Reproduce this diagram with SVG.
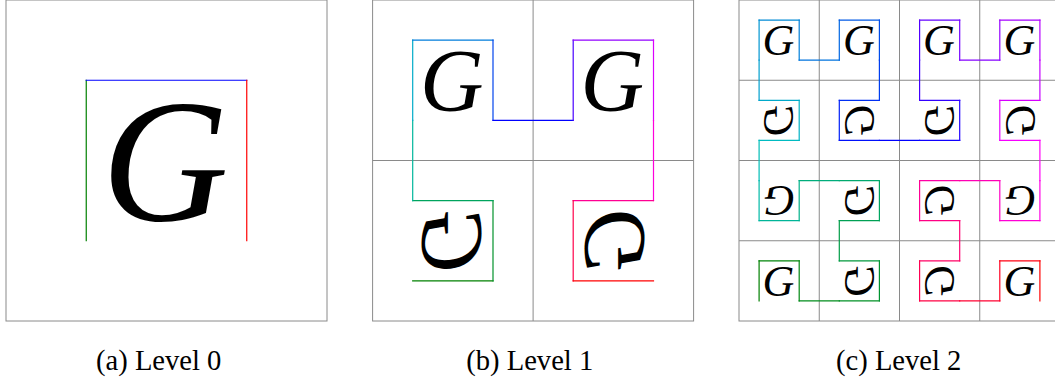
<svg xmlns="http://www.w3.org/2000/svg" width="1055" height="380" viewBox="0 0 1055 380">
<style>
.frame{fill:none;stroke:#8a8a8a;stroke-width:1}
.grid{fill:none;stroke:#8a8a8a;stroke-width:1}
.g{font-family:"Liberation Serif","Times New Roman",serif;font-style:italic;fill:#000;text-anchor:middle}
.g0{font-size:176px}
.g1{font-size:88px}
.g2{font-size:44px}
.cap{font-family:"Liberation Serif","Times New Roman",serif;font-size:28.6px;fill:#000}
.c path{fill:none;stroke-width:1.2;stroke-linecap:square}
</style>
<rect width="1055" height="380" fill="#fff"/>

<!-- Panel (a) -->
<g id="panel-a">
  <rect class="frame" x="6" y="0" width="321" height="321"/>
  <g id="a-cell"><text class="g g0" x="-1.5" y="59" transform="translate(166.5 160.5)">G</text></g>
  <g id="a-connectors" class="c">
    <path d="M86.25 240.75V80.25" stroke="#008000"/>
    <path d="M86.25 80.25H246.75" stroke="#0000ff"/>
    <path d="M246.75 80.25V240.75" stroke="#ff0000"/>
  </g>
  <text id="cap-a" class="cap" x="96" y="369.5">(a) Level 0</text>
</g>

<!-- Panel (b) -->
<g id="panel-b">
  <rect class="frame" x="372.6" y="0" width="321" height="321"/>
  <path class="grid" d="M533.1 0V321M372.6 160.5H693.6"/>
  <g id="b-tl"><text class="g g1" x="-1.2" y="29.5" transform="translate(452.85 80.25)">G</text></g>
  <g id="b-tr"><text class="g g1" x="-1.2" y="29.5" transform="translate(613.35 80.25)">G</text></g>
  <g id="b-bl"><text class="g g1" x="-1.2" y="29.5" transform="translate(452.85 240.75) matrix(0 -1 -1 0 0 0)">G</text></g>
  <g id="b-br"><text class="g g1" x="-1.2" y="29.5" transform="translate(613.35 240.75) matrix(0 1 1 0 0 0)">G</text></g>
  <g id="b-connectors" class="c">
    <path d="M412.7 280.9H493" stroke="#008000"/>
    <path d="M493 280.9V200.6" stroke="#00922a"/>
    <path d="M493 200.6H412.7" stroke="#00a45e"/>
    <path d="M412.7 200.6V120.4" stroke="#00b69c"/>
    <path d="M412.7 120.4V40.1" stroke="#00abc8"/>
    <path d="M412.7 40.1H493" stroke="#007ddb"/>
    <path d="M493 40.1V120.4" stroke="#0044ed"/>
    <path d="M493 120.4H573.2" stroke="#0000ff"/>
    <path d="M573.2 120.4V40.1" stroke="#4900ff"/>
    <path d="M573.2 40.1H653.5" stroke="#9200ff"/>
    <path d="M653.5 40.1V120.4" stroke="#db00ff"/>
    <path d="M653.5 120.4V200.6" stroke="#ff00db"/>
    <path d="M653.5 200.6H573.2" stroke="#ff0092"/>
    <path d="M573.2 200.6V280.9" stroke="#ff0049"/>
    <path d="M573.2 280.9H653.5" stroke="#ff0000"/>
  </g>
  <text id="cap-b" class="cap" x="466.2" y="369.5">(b) Level 1</text>
</g>

<!-- Panel (c) -->
<g id="panel-c">
  <rect class="frame" x="739" y="0" width="321" height="321"/>
  <path class="grid" d="M819.25 0V321M899.5 0V321M979.75 0V321M739 80.25H1060M739 160.5H1060M739 240.75H1060"/>
  <!-- row 3 (top) -->
  <g id="c-r3c0"><text class="g g2" x="-0.6" y="14.7" transform="translate(779.1 40.1)">G</text></g>
  <g id="c-r3c1"><text class="g g2" x="-0.6" y="14.7" transform="translate(859.4 40.1)">G</text></g>
  <g id="c-r3c2"><text class="g g2" x="-0.6" y="14.7" transform="translate(939.6 40.1)">G</text></g>
  <g id="c-r3c3"><text class="g g2" x="-0.6" y="14.7" transform="translate(1019.9 40.1)">G</text></g>
  <!-- row 2 -->
  <g id="c-r2c0"><text class="g g2" x="-0.6" y="14.7" transform="translate(779.1 120.4) matrix(0 -1 -1 0 0 0)">G</text></g>
  <g id="c-r2c1"><text class="g g2" x="-0.6" y="14.7" transform="translate(859.4 120.4) matrix(0 1 1 0 0 0)">G</text></g>
  <g id="c-r2c2"><text class="g g2" x="-0.6" y="14.7" transform="translate(939.6 120.4) matrix(0 -1 -1 0 0 0)">G</text></g>
  <g id="c-r2c3"><text class="g g2" x="-0.6" y="14.7" transform="translate(1019.9 120.4) matrix(0 1 1 0 0 0)">G</text></g>
  <!-- row 1 -->
  <g id="c-r1c0"><text class="g g2" x="-0.6" y="14.7" transform="translate(779.1 200.6) rotate(180)">G</text></g>
  <g id="c-r1c1"><text class="g g2" x="-0.6" y="14.7" transform="translate(859.4 200.6) matrix(0 -1 -1 0 0 0)">G</text></g>
  <g id="c-r1c2"><text class="g g2" x="-0.6" y="14.7" transform="translate(939.6 200.6) matrix(0 1 1 0 0 0)">G</text></g>
  <g id="c-r1c3"><text class="g g2" x="-0.6" y="14.7" transform="translate(1019.9 200.6) rotate(180)">G</text></g>
  <!-- row 0 (bottom) -->
  <g id="c-r0c0"><text class="g g2" x="-0.6" y="14.7" transform="translate(779.1 280.9)">G</text></g>
  <g id="c-r0c1"><text class="g g2" x="-0.6" y="14.7" transform="translate(859.4 280.9) matrix(0 -1 -1 0 0 0)">G</text></g>
  <g id="c-r0c2"><text class="g g2" x="-0.6" y="14.7" transform="translate(939.6 280.9) matrix(0 1 1 0 0 0)">G</text></g>
  <g id="c-r0c3"><text class="g g2" x="-0.6" y="14.7" transform="translate(1019.9 280.9)">G</text></g>
  <g id="c-connectors" class="c">
    <path d="M759.1 300.9V260.8" stroke="#008000"/>
    <path d="M759.1 260.8H799.2" stroke="#008408"/>
    <path d="M799.2 260.8V300.9" stroke="#008812"/>
    <path d="M799.2 300.9H839.3" stroke="#008c1b"/>
    <path d="M839.3 300.9H879.4" stroke="#009025"/>
    <path d="M879.4 300.9V260.8" stroke="#009430"/>
    <path d="M879.4 260.8H839.3" stroke="#00983b"/>
    <path d="M839.3 260.8V220.7" stroke="#009c47"/>
    <path d="M839.3 220.7H879.4" stroke="#00a053"/>
    <path d="M879.4 220.7V180.6" stroke="#00a560"/>
    <path d="M879.4 180.6H839.3" stroke="#00a96d"/>
    <path d="M839.3 180.6H799.2" stroke="#00ad7b"/>
    <path d="M799.2 180.6V220.7" stroke="#00b189"/>
    <path d="M799.2 220.7H759.1" stroke="#00b598"/>
    <path d="M759.1 220.7V180.6" stroke="#00b9a7"/>
    <path d="M759.1 180.6V140.4" stroke="#00bdb7"/>
    <path d="M759.1 140.4H799.2" stroke="#00bbc1"/>
    <path d="M799.2 140.4V100.3" stroke="#00b2c5"/>
    <path d="M799.2 100.3H759.1" stroke="#00a9ca"/>
    <path d="M759.1 100.3V60.2" stroke="#009fce"/>
    <path d="M759.1 60.2V20.1" stroke="#0095d2"/>
    <path d="M759.1 20.1H799.2" stroke="#008ad6"/>
    <path d="M799.2 20.1V60.2" stroke="#007fda"/>
    <path d="M799.2 60.2H839.3" stroke="#0073de"/>
    <path d="M839.3 60.2V20.1" stroke="#0066e2"/>
    <path d="M839.3 20.1H879.4" stroke="#0059e6"/>
    <path d="M879.4 20.1V60.2" stroke="#004cea"/>
    <path d="M879.4 60.2V100.3" stroke="#003eef"/>
    <path d="M879.4 100.3H839.3" stroke="#002ff3"/>
    <path d="M839.3 100.3V140.4" stroke="#0020f7"/>
    <path d="M839.3 140.4H879.4" stroke="#0010fb"/>
    <path d="M879.4 140.4H919.6" stroke="#0000ff"/>
    <path d="M919.6 140.4H959.7" stroke="#1000ff"/>
    <path d="M959.7 140.4V100.3" stroke="#2100ff"/>
    <path d="M959.7 100.3H919.6" stroke="#3100ff"/>
    <path d="M919.6 100.3V60.2" stroke="#4200ff"/>
    <path d="M919.6 60.2V20.1" stroke="#5200ff"/>
    <path d="M919.6 20.1H959.7" stroke="#6300ff"/>
    <path d="M959.7 20.1V60.2" stroke="#7300ff"/>
    <path d="M959.7 60.2H999.8" stroke="#8400ff"/>
    <path d="M999.8 60.2V20.1" stroke="#9400ff"/>
    <path d="M999.8 20.1H1039.9" stroke="#a500ff"/>
    <path d="M1039.9 20.1V60.2" stroke="#b500ff"/>
    <path d="M1039.9 60.2V100.3" stroke="#c500ff"/>
    <path d="M1039.9 100.3H999.8" stroke="#d600ff"/>
    <path d="M999.8 100.3V140.4" stroke="#e600ff"/>
    <path d="M999.8 140.4H1039.9" stroke="#f700ff"/>
    <path d="M1039.9 140.4V180.6" stroke="#ff00f7"/>
    <path d="M1039.9 180.6V220.7" stroke="#ff00e6"/>
    <path d="M1039.9 220.7H999.8" stroke="#ff00d6"/>
    <path d="M999.8 220.7V180.6" stroke="#ff00c5"/>
    <path d="M999.8 180.6H959.7" stroke="#ff00b5"/>
    <path d="M959.7 180.6H919.6" stroke="#ff00a5"/>
    <path d="M919.6 180.6V220.7" stroke="#ff0094"/>
    <path d="M919.6 220.7H959.7" stroke="#ff0084"/>
    <path d="M959.7 220.7V260.8" stroke="#ff0073"/>
    <path d="M959.7 260.8H919.6" stroke="#ff0063"/>
    <path d="M919.6 260.8V300.9" stroke="#ff0052"/>
    <path d="M919.6 300.9H959.7" stroke="#ff0042"/>
    <path d="M959.7 300.9H999.8" stroke="#ff0031"/>
    <path d="M999.8 300.9V260.8" stroke="#ff0021"/>
    <path d="M999.8 260.8H1039.9" stroke="#ff0010"/>
    <path d="M1039.9 260.8V300.9" stroke="#ff0000"/>
  </g>
  <text id="cap-c" class="cap" x="836" y="369.5">(c) Level 2</text>
</g>
</svg>
